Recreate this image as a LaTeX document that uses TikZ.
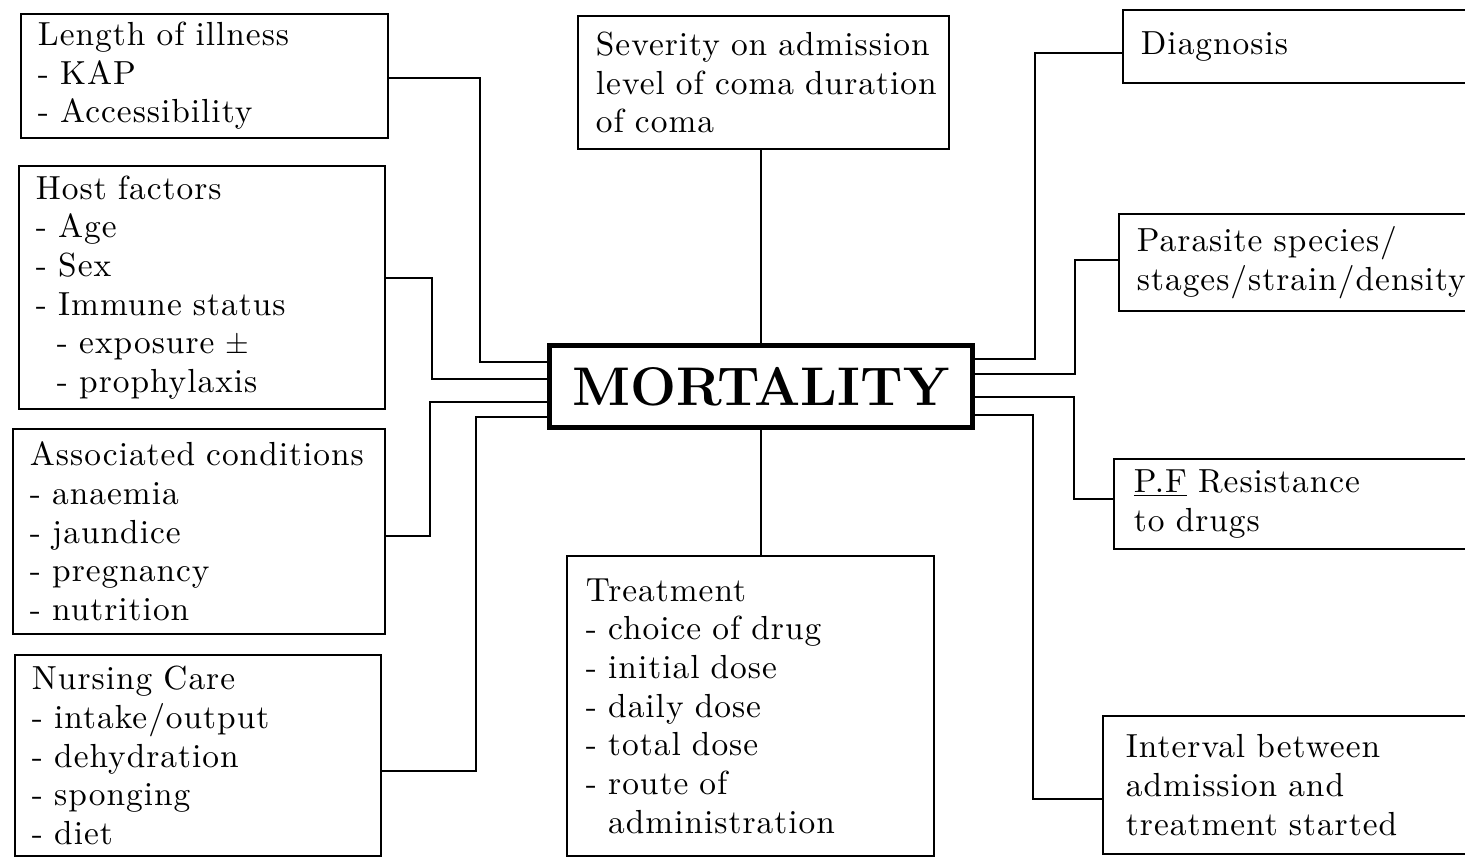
\documentclass[tikz,border=0pt]{standalone}
\usepackage{fontspec}
\newfontfamily\labelfont{lmroman10-regular.otf}[LetterSpace=3]
\usepackage{tikz}
\usetikzlibrary{positioning,calc}

\tikzset{
  factor/.style={draw,line width=1.1pt,anchor=north west,align=left,inner xsep=0.34cm,inner ysep=2pt,font=\labelfont\fontsize{19}{22}\selectfont},
  outcome/.style={draw,line width=2.8pt,anchor=north west,minimum width=8.46cm,minimum height=1.64cm,inner sep=0pt,font=\fontsize{31}{36}\selectfont\bfseries},
  link/.style={line width=1.1pt}
}

\begin{document}
\begin{tikzpicture}[x=0.02cm,y=-0.02cm]
\useasboundingbox (0,0) rectangle (1465,856);
% left column
\node[factor,text width=6.66cm,minimum height=2.48cm] (illness) at (20,13) {Length of illness\\- KAP\\- Accessibility};
\node[factor,text width=6.64cm,minimum height=4.86cm] (host) at (18,165) {Host factors\\- Age\\- Sex\\- Immune status\\\hspace*{0.42cm}- exposure $\pm$\\\hspace*{0.42cm}- prophylaxis};
\node[factor,text width=6.76cm,minimum height=4.10cm] (assoc) at (12,428) {Associated conditions\\- anaemia\\- jaundice\\- pregnancy\\- nutrition};
\node[factor,text width=6.64cm,minimum height=4.02cm] (nursing) at (14,654) {Nursing Care\\- intake/output\\- dehydration\\- sponging\\- diet};
% middle column
\node[factor,inner xsep=0.36cm,text width=6.7cm,minimum height=2.66cm] (severity) at (577,15) {\mbox{Severity on admission}\\\mbox{level of coma duration}\\of coma};
\node[outcome] (mort) at (547,343) {MORTALITY};
\node[factor,inner xsep=0.38cm,text width=6.58cm,minimum height=6.0cm] (treat) at (566,555) {Treatment\\- choice of drug\\- initial dose\\- daily dose\\- total dose\\- route of\\\phantom{- }administration};
% right column (runs off the page)
\node[factor,inner xsep=0.36cm,text width=6.44cm,minimum height=1.46cm] (diag) at (1122,9) {Diagnosis};
\node[factor,inner xsep=0.36cm,text width=6.52cm,minimum height=1.94cm] (parasite) at (1118,213) {Parasite species/\\stages/strain/density};
\node[factor,inner xsep=0.4cm,text width=6.54cm,minimum height=1.8cm] (resist) at (1113,458) {\underline{P.F} Resistance\\to drugs};
\node[factor,inner xsep=0.46cm,text width=6.64cm,minimum height=2.76cm] (interval) at (1102,715) {Interval between\\admission and\\treatment started};
% links on the left
\draw[link] ([yshift=-0.04cm]illness.east) -| ([xshift=-1.34cm,yshift=0.48cm]mort.west) -- ([yshift=0.48cm]mort.west);
\draw[link] ([yshift=0.19cm]host.east) -| ([xshift=-2.3cm,yshift=0.14cm]mort.west) -- ([yshift=0.14cm]mort.west);
\draw[link] ([yshift=-0.09cm]assoc.east) -| ([xshift=-2.34cm,yshift=-0.32cm]mort.west) -- ([yshift=-0.32cm]mort.west);
\draw[link] ([yshift=-0.31cm]nursing.east) -| ([xshift=-1.42cm,yshift=-0.62cm]mort.west) -- ([yshift=-0.62cm]mort.west);
% links on the right
\draw[link] ([yshift=-0.13cm]diag.west) -| ([xshift=1.2cm,yshift=0.54cm]mort.east) -- ([yshift=0.54cm]mort.east);
\draw[link] ([yshift=0.05cm]parasite.west) -| ([xshift=2.0cm,yshift=0.24cm]mort.east) -- ([yshift=0.24cm]mort.east);
\draw[link] ([yshift=0.1cm]resist.west) -| ([xshift=1.98cm,yshift=-0.22cm]mort.east) -- ([yshift=-0.22cm]mort.east);
\draw[link] ([yshift=-0.28cm]interval.west) -| ([xshift=1.16cm,yshift=-0.58cm]mort.east) -- ([yshift=-0.58cm]mort.east);
% top and bottom
\draw[link] (mort.north |- severity.south) -- (mort.north);
\draw[link] (mort.south) -- (mort.south |- treat.north);
\end{tikzpicture}
\end{document}
